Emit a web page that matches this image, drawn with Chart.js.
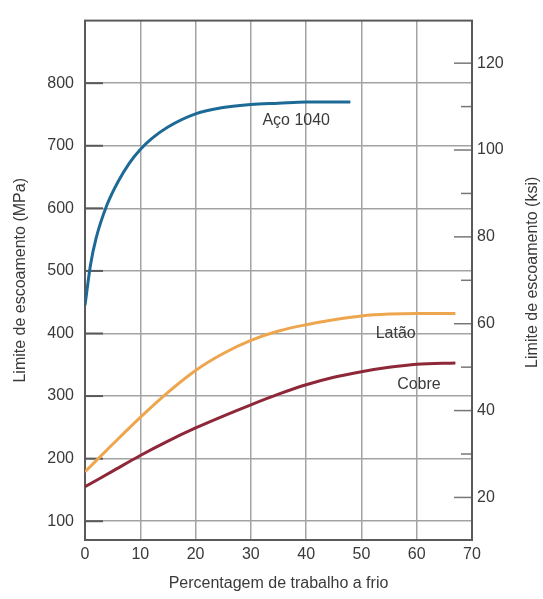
<!DOCTYPE html>
<html>
<head>
<meta charset="utf-8">
<script src="https://cdn.jsdelivr.net/npm/chart.js@4"></script>
<style>
  html, body { margin: 0; padding: 0; background: #fff; }
  #wrap { width: 543px; height: 599px; }
</style>
</head>
<body>
<div id="wrap"><canvas id="chart1" width="543" height="599"></canvas></div>
<script>
// percent cold work
const pctAco = [0, 1, 2, 4, 6, 8, 10, 12, 15, 20, 25, 30, 35, 40, 48]
const pctLigas = [0, 5, 10, 15, 20, 25, 30, 35, 40, 45, 50, 55, 60, 67]

// yield strength, MPa
const aco1040 = [445, 510, 552, 606, 643, 672, 694, 711, 730, 751, 761, 766, 768, 770, 770]
const latao = [179, 223, 266, 306, 341, 368, 389, 404, 414, 422, 428, 431, 432, 432]
const cobre = [155, 180, 205, 228, 249, 268, 286, 303, 318, 330, 339, 346, 351, 353]

const xTicks = [0, 10, 20, 30, 40, 50, 60, 70]
const mpaTicks = [100, 200, 300, 400, 500, 600, 700, 800]
const ksiTicks = [20, 40, 60, 80, 100, 120]
const ksiMinor = [30, 50, 70, 90, 110]

const textColor = '#3a3a3a'
const gridColor = '#a3a3a3'
const font = { family: "'Liberation Sans', Arial, sans-serif", size: 16 }

const toPoints = (xs, ys) => xs.map((x, i) => ({ x: x, y: ys[i] }))

// curve names written next to each line (x in %, y in MPa)
const curveLabels = [
    { text: 'Aço 1040', x: 38.2, y: 741 },
    { text: 'Latão', x: 56.2, y: 400 },
    { text: 'Cobre', x: 60.4, y: 318 }
]

const framePlugin = {
    id: 'frame',
    beforeDatasetsDraw(chart) {
        const { ctx, chartArea: a, scales } = chart
        ctx.save()
        ctx.strokeStyle = '#5a5a5a'
        ctx.lineWidth = 2
        // short ticks inside the left axis
        mpaTicks.forEach(v => {
            const y = scales.y.getPixelForValue(v)
            ctx.beginPath()
            ctx.moveTo(a.left, y)
            ctx.lineTo(a.left + 18, y)
            ctx.stroke()
        })
        // ksi ticks inside the right axis
        ctx.lineWidth = 1.5
        ctx.strokeStyle = '#777'
        ksiTicks.forEach(v => {
            const y = scales.y2.getPixelForValue(v)
            ctx.beginPath()
            ctx.moveTo(a.right, y)
            ctx.lineTo(a.right - 18, y)
            ctx.stroke()
        })
        ksiMinor.forEach(v => {
            const y = scales.y2.getPixelForValue(v)
            ctx.beginPath()
            ctx.moveTo(a.right, y)
            ctx.lineTo(a.right - 11, y)
            ctx.stroke()
        })
        ctx.lineWidth = 2
        ctx.strokeStyle = '#5a5a5a'
        ctx.strokeRect(a.left, a.top, a.right - a.left, a.bottom - a.top)
        ctx.restore()
    },
    afterDatasetsDraw(chart) {
        const { ctx, chartArea: a, scales } = chart
        ctx.save()
        ctx.fillStyle = textColor
        ctx.font = font.size + 'px ' + font.family
        ctx.textAlign = 'center'
        ctx.textBaseline = 'middle'
        curveLabels.forEach(l => {
            ctx.fillText(l.text, scales.x.getPixelForValue(l.x), scales.y.getPixelForValue(l.y))
        })
        // right axis title, read bottom to top like the left one
        ctx.translate(533, (a.top + a.bottom) / 2 - 8)
        ctx.rotate(-Math.PI / 2)
        ctx.fillText('Limite de escoamento (ksi)', 0, 0)
        ctx.restore()
    }
}

const ctx1 = document.getElementById('chart1')

new Chart(ctx1, {
    type: 'line',
    data: {
        datasets: [{
            label: 'Aço 1040',
            data: toPoints(pctAco, aco1040),
            borderColor: '#1d6a96',
            borderWidth: 3,
            pointRadius: 0,
            cubicInterpolationMode: 'monotone'
        },
        {
            label: 'Latão',
            data: toPoints(pctLigas, latao),
            borderColor: '#eea64e',
            borderWidth: 3,
            pointRadius: 0,
            cubicInterpolationMode: 'monotone'
        },
        {
            label: 'Cobre',
            data: toPoints(pctLigas, cobre),
            borderColor: '#8e2839',
            borderWidth: 3,
            pointRadius: 0,
            cubicInterpolationMode: 'monotone'
        }]
    },
    options: {
        responsive: false,
        animation: false,
        devicePixelRatio: 1,
        layout: { padding: { top: 17, left: 0, right: 0, bottom: 0 } },
        plugins: {
            legend: { display: false },
            tooltip: { enabled: false }
        },
        scales: {
            x: {
                type: 'linear',
                min: 0,
                max: 70,
                afterBuildTicks: s => { s.ticks = xTicks.map(v => ({ value: v })) },
                afterFit: s => { s.height = 59 },
                grid: { color: gridColor, lineWidth: 1.5, drawTicks: false },
                border: { display: false },
                ticks: { color: textColor, font: font, padding: 5 },
                title: {
                    display: true,
                    text: 'Percentagem de trabalho a frio',
                    color: textColor,
                    font: font,
                    padding: { top: 0, bottom: 6 }
                }
            },
            y: {
                position: 'left',
                min: 70,
                max: 900,
                afterBuildTicks: s => { s.ticks = mpaTicks.map(v => ({ value: v })) },
                afterFit: s => { s.width = 85 },
                grid: { color: gridColor, lineWidth: 1.5, drawTicks: false },
                border: { display: false },
                ticks: { color: textColor, font: font, padding: 11 },
                title: {
                    display: true,
                    text: 'Limite de escoamento (MPa)',
                    color: textColor,
                    font: font,
                    padding: { top: 11, bottom: 0 }
                }
            },
            y2: {
                position: 'right',
                min: 10.2,
                max: 129.8,
                afterBuildTicks: s => { s.ticks = ksiTicks.map(v => ({ value: v })) },
                afterFit: s => { s.width = 71 },
                grid: { drawOnChartArea: false, drawTicks: false },
                border: { display: false },
                ticks: { color: textColor, font: font, padding: 5 }
            }
        }
    },
    plugins: [framePlugin]
})
</script>
</body>
</html>
